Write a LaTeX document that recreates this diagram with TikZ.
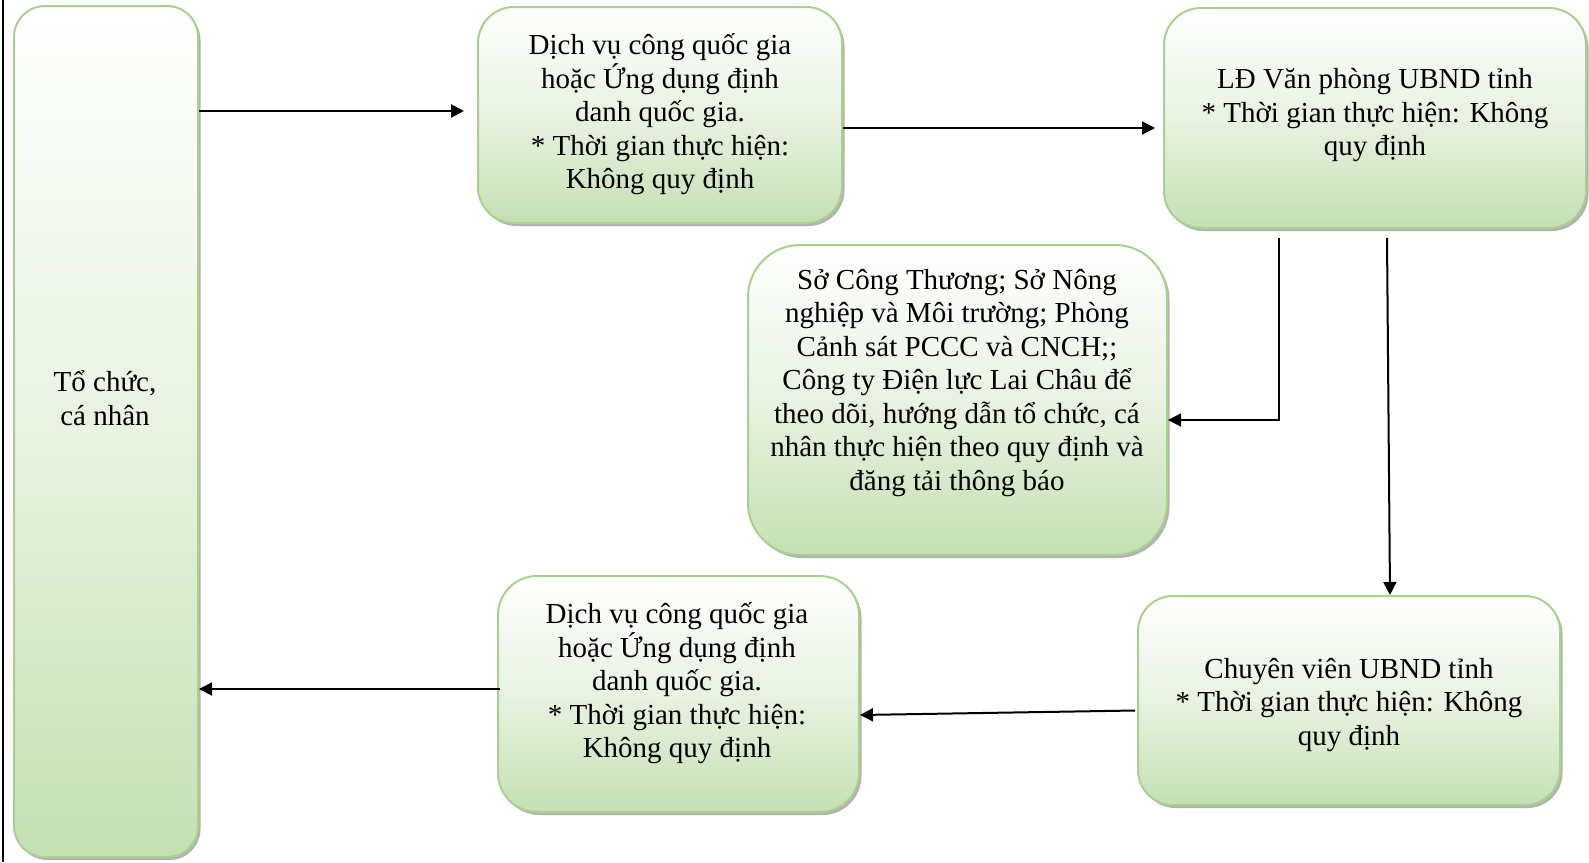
\documentclass[tikz,border=0pt]{standalone}
\usepackage{fontspec}
\setmainfont{Liberation Serif}
\usetikzlibrary{arrows.meta,shadows,calc}
\definecolor{boxg}{RGB}{197,224,180}
\definecolor{boxline}{RGB}{169,209,142}
\tikzset{
  box/.style={draw=boxline, line width=2pt, top color=white, bottom color=boxg,
    middle color=boxg!40!white, inner sep=0pt,
    drop shadow={shadow xshift=2.5pt, shadow yshift=-3pt, fill=black!55, opacity=0.55}},
  txt/.style={align=center, font=\fontsize{29}{33.5}\selectfont, inner sep=0pt},
  arr/.style={line width=2pt, -{Triangle[length=13pt,width=13pt]}},
  frameline/.style={line width=2pt, black}
}
\begin{document}
\begin{tikzpicture}[x=1pt,y=-1pt]
\useasboundingbox (0,0) rectangle (1589,862);
\coordinate (ftop) at (3,0);
\coordinate (fbot) at (3,862);
\draw[frameline] (ftop) -- (fbot);

\node[box, rounded corners=31pt, minimum width=184pt, minimum height=851pt] (b1) at (106,431.5) {};
\node[box, rounded corners=36pt, minimum width=364pt, minimum height=216pt] (b2) at (660,115) {};
\node[box, rounded corners=37pt, minimum width=422pt, minimum height=220pt] (b3) at (1375,118) {};
\node[box, rounded corners=52pt, minimum width=419pt, minimum height=310pt] (b4) at (957.5,400) {};
\node[box, rounded corners=35pt, minimum width=422pt, minimum height=209pt] (b5) at (1349,700.5) {};
\node[box, rounded corners=39pt, minimum width=361pt, minimum height=236pt] (b6) at (678.5,694) {};

\node[txt] (t1) at (105,398) {Tổ chức,\\cá nhân};
\node[txt] (t2) at (660,114.5) {Dịch vụ công quốc gia\\hoặc Ứng dụng định\\danh quốc gia.\\* Thời gian thực hiện:\\Không quy định};
\node[txt] (t3) at (1375,115.5) {LĐ Văn phòng UBND tỉnh\\* Thời gian thực hiện: Không\\quy định};
\node[txt] (t4) at (957,383) {Sở Công Thương; Sở Nông\\nghiệp và Môi trường; Phòng\\Cảnh sát PCCC và CNCH;;\\Công ty Điện lực Lai Châu để\\theo dõi, hướng dẫn tổ chức, cá\\nhân thực hiện theo quy định và\\đăng tải thông báo};
\node[txt] (t5) at (1349,705) {Chuyên viên UBND tỉnh\\* Thời gian thực hiện: Không\\quy định};
\node[txt] (t6) at (677,683.5) {Dịch vụ công quốc gia\\hoặc Ứng dụng định\\danh quốc gia.\\* Thời gian thực hiện:\\Không quy định};

% connector end points
\coordinate (a2in) at ([xshift=-13pt,yshift=4pt]b2.west);
\coordinate (a1out) at (b1.east |- a2in);
\coordinate (a2out) at ([yshift=-13pt]b2.east);
\coordinate (a3in) at ([xshift=-8pt]a2out -| b3.west);
\coordinate (a3outL) at ([xshift=-96pt,yshift=-9pt]b3.south);
\coordinate (a3outR) at ([xshift=12pt,yshift=-9pt]b3.south);
\coordinate (a4in) at ([yshift=-20pt]b4.east);
\coordinate (a5in) at ([xshift=41pt]b5.north);
\coordinate (a5out) at ([xshift=-2pt,yshift=-10pt]b5.west);
\coordinate (a6in) at ([yshift=-21pt]b6.east);
\coordinate (a6out) at ([xshift=3pt,yshift=5pt]b6.west);
\coordinate (a1in) at (b1.east |- a6out);

% connectors
\draw[arr] (a1out) -- (a2in);
\draw[arr] (a2out) -- (a3in);
\draw[arr] (a3outL) |- (a4in);
\draw[arr] (a3outR) -- (a5in);
\draw[arr] (a5out) -- (a6in);
\draw[arr] (a6out) -- (a1in);
\end{tikzpicture}
\end{document}
